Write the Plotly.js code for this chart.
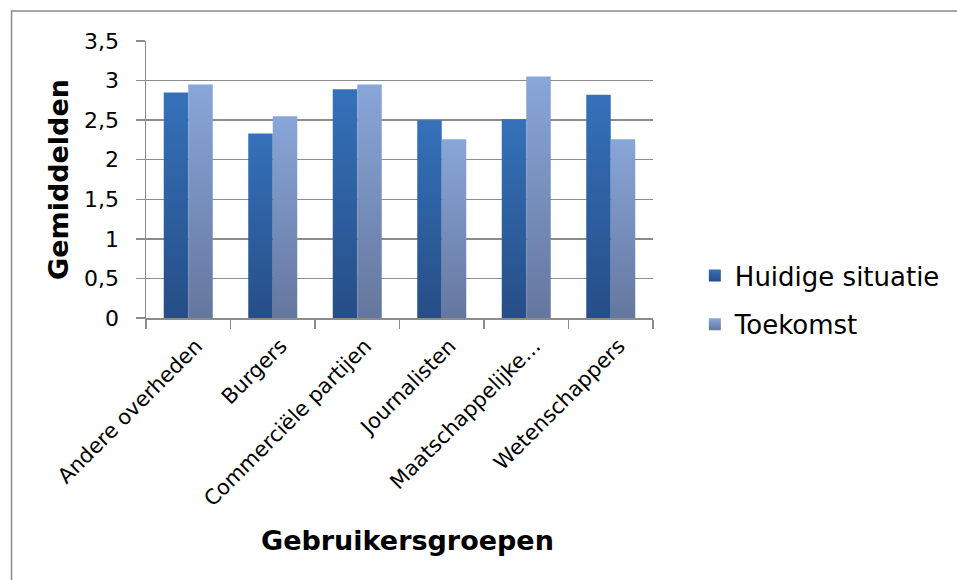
<!DOCTYPE html>
<html>
<head>
<meta charset="utf-8">
<script src="https://cdn.plot.ly/plotly-3.0.1.min.js"></script>
<style>
html,body{margin:0;padding:0;background:#fff;}
#chart{width:957px;height:580px;}
</style>
</head>
<body>
<div id="chart"></div>
<script>
var categories = ["Andere overheden", "Burgers", "Commerciële partijen", "Journalisten", "Maatschappelijke...", "Wetenschappers"];
var huidige = [2.85, 2.33, 2.89, 2.50, 2.51, 2.82];
var toekomst = [2.95, 2.55, 2.95, 2.26, 3.05, 2.26];
var seriesNames = ["Huidige situatie", "Toekomst"];
var yTickVals = [0, 0.5, 1, 1.5, 2, 2.5, 3, 3.5];
var yTickText = ["0", "0,5", "1", "1,5", "2", "2,5", "3", "3,5"];
var xTitle = "Gebruikersgroepen";
var yTitle = "Gemiddelden";

var FONT = "DejaVu Sans, Verdana, sans-serif";

var traces = [
  {type: "bar", x: categories, y: huidige, name: seriesNames[0], legendgroup: "a",
   marker: {color: "#2F5FA0", line: {width: 0}}, hoverinfo: "skip"},
  {type: "bar", x: categories, y: toekomst, name: seriesNames[1], legendgroup: "b",
   marker: {color: "#7A92C2", line: {width: 0}}, hoverinfo: "skip"}
];

var L = 146, R = 655, T = 41, B = 318, W = 957, H = 580;
var pw = R - L, ph = B - T;

var layout = {
  width: W, height: H,
  margin: {l: L, r: W - R, t: T, b: H - B, pad: 0},
  paper_bgcolor: "#ffffff",
  plot_bgcolor: "#ffffff",
  barmode: "group",
  bargap: 0.42,
  bargroupgap: 0,
  showlegend: true,
  font: {family: FONT, color: "#000"},
  legend: {
    x: (697 - L) / pw, xanchor: "left",
    y: (B - 300) / ph, yanchor: "middle",
    font: {size: 26, family: FONT, color: "#000"},
    traceorder: "grouped",
    tracegroupgap: 12,
    bgcolor: "rgba(0,0,0,0)",
    borderwidth: 0
  },
  xaxis: {
    type: "category",
    showgrid: false,
    showline: true, linecolor: "#8c8c8c", linewidth: 1.5,
    ticks: "outside", ticklen: 9, tickcolor: "#8c8c8c", tickwidth: 1.5,
    tickson: "boundaries",
    tickangle: -45,
    ticklabelshift: 8,
    ticklabelstandoff: 6,
    tickfont: {size: 21, family: FONT, color: "#000"},
    automargin: false,
    fixedrange: true
  },
  yaxis: {
    range: [0, 3.5],
    tickvals: yTickVals, ticktext: yTickText,
    showgrid: true, gridcolor: "#8c8c8c", gridwidth: 1.5,
    zeroline: false,
    showline: true, linecolor: "#8c8c8c", linewidth: 1.5,
    ticks: "outside", ticklen: 9, tickcolor: "#8c8c8c", tickwidth: 1.5,
    ticklabelstandoff: 12,
    tickfont: {size: 22, family: FONT, color: "#000"},
    title: {text: "<b>" + yTitle + "</b>", font: {size: 27, family: FONT, color: "#000"}, standoff: 7},
    automargin: false,
    fixedrange: true
  },
  annotations: [
    {text: "<b>" + xTitle + "</b>", xref: "paper", yref: "paper",
     x: (408.5 - L) / pw, y: (B - 540) / ph, xanchor: "center", yanchor: "middle",
     showarrow: false, font: {size: 27, family: FONT, color: "#000"}}
  ],
  shapes: [
    {type: "rect", xref: "paper", yref: "paper",
     x0: (11 - L) / pw, x1: (W + 20 - L) / pw,
     y0: (B - (H + 20)) / ph, y1: (B - 11) / ph,
     line: {color: "#8a8a8a", width: 1.5}, fillcolor: "rgba(0,0,0,0)", layer: "below"}
  ]
};

Plotly.newPlot("chart", traces, layout, {displayModeBar: false, staticPlot: true}).then(function(gd){
  var svg = gd.querySelector("svg.main-svg");
  var defs = svg.querySelector("defs");
  var ns = "http://www.w3.org/2000/svg";
  function addGrad(id, top, bottom){
    var g = document.createElementNS(ns, "linearGradient");
    g.setAttribute("id", id);
    g.setAttribute("x1", "0"); g.setAttribute("y1", "0");
    g.setAttribute("x2", "0"); g.setAttribute("y2", "1");
    var s1 = document.createElementNS(ns, "stop");
    s1.setAttribute("offset", "0"); s1.setAttribute("stop-color", top);
    var s2 = document.createElementNS(ns, "stop");
    s2.setAttribute("offset", "1"); s2.setAttribute("stop-color", bottom);
    g.appendChild(s1); g.appendChild(s2);
    defs.appendChild(g);
  }
  addGrad("gradA", "#3571BA", "#264E87");
  addGrad("gradB", "#89A6D9", "#64779E");
  var grads = ["url(#gradA)", "url(#gradB)"];
  var barTraces = gd.querySelectorAll(".barlayer .trace");
  barTraces.forEach(function(t, i){
    t.querySelectorAll("path").forEach(function(p){ p.style.fill = grads[i]; });
  });
  var legItems = gd.querySelectorAll(".legend .traces");
  legItems.forEach(function(t, i){
    t.querySelectorAll(".legendpoints path").forEach(function(p){ p.style.fill = grads[i]; });
  });
});
</script>
</body>
</html>
